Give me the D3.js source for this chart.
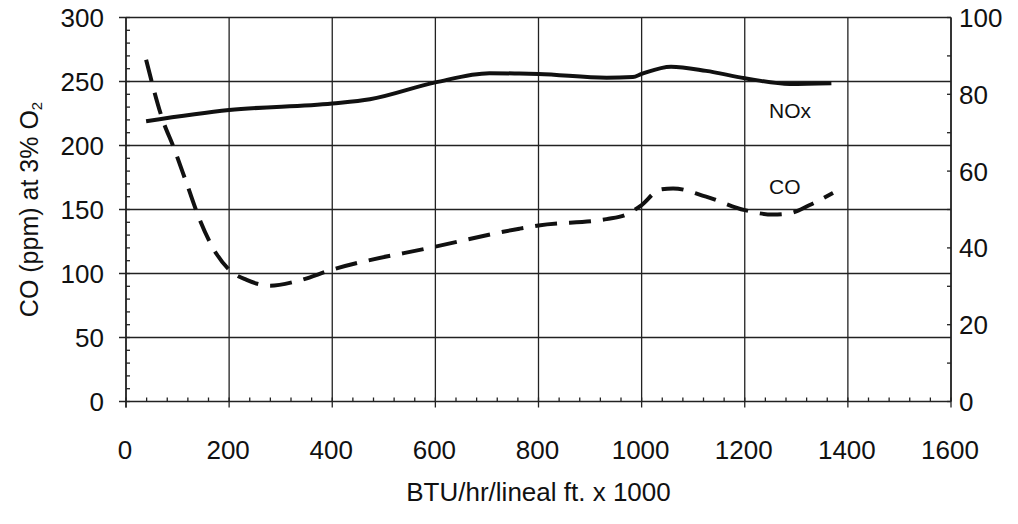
<!DOCTYPE html>
<html>
<head>
<meta charset="utf-8">
<script src="https://cdn.jsdelivr.net/npm/d3@7"></script>
<style>
body { margin: 0; background: #fff; }
svg text { font-family: "Liberation Sans", Arial, sans-serif; fill: #111; }
</style>
</head>
<body>
<svg id="svg" width="1018" height="524"></svg>
<script>
//CO curve (left axis, ppm)
const coX = [39, 72, 92, 118, 143, 176, 200, 234, 279, 331, 400, 600, 763, 800, 932, 970, 1000, 1035, 1061, 1125, 1200, 1255, 1287, 1326, 1371];
const coY = [267, 219, 199, 170, 142, 115, 103, 95, 90.5, 94, 103, 121, 135, 137.5, 142.5, 146, 153.5, 165.5, 166.5, 160, 149.5, 146, 147, 153.5, 163];
//NOx curve (right axis)
const noxX = [39, 200, 400, 473, 600, 705, 763, 800, 932, 983, 1000, 1057, 1125, 1200, 1287, 1368];
const noxY = [73, 75.9, 77.6, 78.7, 83.1, 85.5, 85.4, 85.3, 84.3, 84.5, 85.3, 87.2, 86.1, 84.2, 82.7, 82.9];
//tick labels
const xTicks = [0, 200, 400, 600, 800, 1000, 1200, 1400, 1600];
const yLeftTicks = [0, 50, 100, 150, 200, 250, 300];
const yRightTicks = [0, 20, 40, 60, 80, 100];

const W = 1018, H = 524;
const m = {left: 126, right: 67, top: 17.5, bottom: 122.5};
const svg = d3.select("#svg");

var scaleX = d3.scaleLinear().domain([0, 1600]).range([m.left, W - m.right]);
var scaleY = d3.scaleLinear().domain([0, 300]).range([H - m.bottom, m.top]);
var scaleY2 = d3.scaleLinear().domain([0, 100]).range([H - m.bottom, m.top]);

const x0 = scaleX(0), x1 = scaleX(1600), y0 = scaleY(0), y1 = scaleY(300);

//grid lines
svg.append("g").selectAll("line.h")
        .data(yLeftTicks)
        .enter().append("line")
        .attr("x1", x0 - 7).attr("x2", x1)
        .attr("y1", d => scaleY(d)).attr("y2", d => scaleY(d))
        .attr("stroke", "#222").attr("stroke-width", 1.3);
svg.append("g").selectAll("line.v")
        .data(xTicks)
        .enter().append("line")
        .attr("x1", d => scaleX(d)).attr("x2", d => scaleX(d))
        .attr("y1", y1).attr("y2", y0 + 6)
        .attr("stroke", "#222").attr("stroke-width", 1.3);

//axis lines
svg.append("line").attr("x1", x0).attr("x2", x0).attr("y1", y1).attr("y2", y0 + 6)
        .attr("stroke", "#222").attr("stroke-width", 1.5);
svg.append("line").attr("x1", x1).attr("x2", x1).attr("y1", y1).attr("y2", y0)
        .attr("stroke", "#222").attr("stroke-width", 1.5);

//minor ticks
svg.append("g").selectAll("line")
        .data(d3.range(0, 301, 10))
        .enter().append("line")
        .attr("x1", x0).attr("x2", x0 + 4)
        .attr("y1", d => scaleY(d)).attr("y2", d => scaleY(d))
        .attr("stroke", "#222").attr("stroke-width", 1.3);
svg.append("g").selectAll("line")
        .data(d3.range(0, 1601, 40))
        .enter().append("line")
        .attr("x1", d => scaleX(d)).attr("x2", d => scaleX(d))
        .attr("y1", y0).attr("y2", y0 - 4)
        .attr("stroke", "#222").attr("stroke-width", 1.3);
svg.append("g").selectAll("line")
        .data(d3.range(0, 101, 10))
        .enter().append("line")
        .attr("x1", x1).attr("x2", x1 - 4)
        .attr("y1", d => scaleY2(d)).attr("y2", d => scaleY2(d))
        .attr("stroke", "#222").attr("stroke-width", 1.3);

//tick labels
svg.append("g").selectAll("text")
        .data(yLeftTicks)
        .enter().append("text")
        .attr("x", 104).attr("y", d => scaleY(d) + 9.5)
        .attr("text-anchor", "end").attr("font-size", 26)
        .text(d => d);
svg.append("g").selectAll("text")
        .data(yRightTicks)
        .enter().append("text")
        .attr("x", 959).attr("y", d => scaleY2(d) + 9.5)
        .attr("text-anchor", "start").attr("font-size", 26)
        .text(d => d);
svg.append("g").selectAll("text")
        .data(xTicks)
        .enter().append("text")
        .attr("x", d => scaleX(d) - 1).attr("y", 459)
        .attr("text-anchor", "middle").attr("font-size", 26)
        .text(d => d);

//axis titles
svg.append("text")
        .attr("transform", "translate(38," + ((y0 + y1) / 2) + ") rotate(-90)")
        .attr("text-anchor", "middle").attr("font-size", 25)
        .html('CO (ppm) at 3% O<tspan font-size="15" dy="4">2</tspan>');
svg.append("text")
        .attr("x", (x0 + x1) / 2).attr("y", 501)
        .attr("text-anchor", "middle").attr("font-size", 26)
        .text("BTU/hr/lineal ft. x 1000");

//lines
var coData = coX.map((d, i) => ({x: d, y: coY[i]}));
var noxData = noxX.map((d, i) => ({x: d, y: noxY[i]}));

var coLine = d3.line().curve(d3.curveMonotoneX)
        .x(d => scaleX(d.x)).y(d => scaleY(d.y));
var noxLine = d3.line().curve(d3.curveMonotoneX)
        .x(d => scaleX(d.x)).y(d => scaleY2(d.y));

svg.append("path").datum(noxData)
        .attr("d", noxLine)
        .attr("fill", "none").attr("stroke", "#111").attr("stroke-width", 4);
svg.append("path").datum(coData)
        .attr("d", coLine)
        .attr("fill", "none").attr("stroke", "#111").attr("stroke-width", 4)
        .attr("stroke-dasharray", "22,12");

//series labels
svg.append("text").attr("x", 769).attr("y", 118).attr("font-size", 21).text("NOx");
svg.append("text").attr("x", 769).attr("y", 194).attr("font-size", 21).text("CO");
</script>
</body>
</html>
